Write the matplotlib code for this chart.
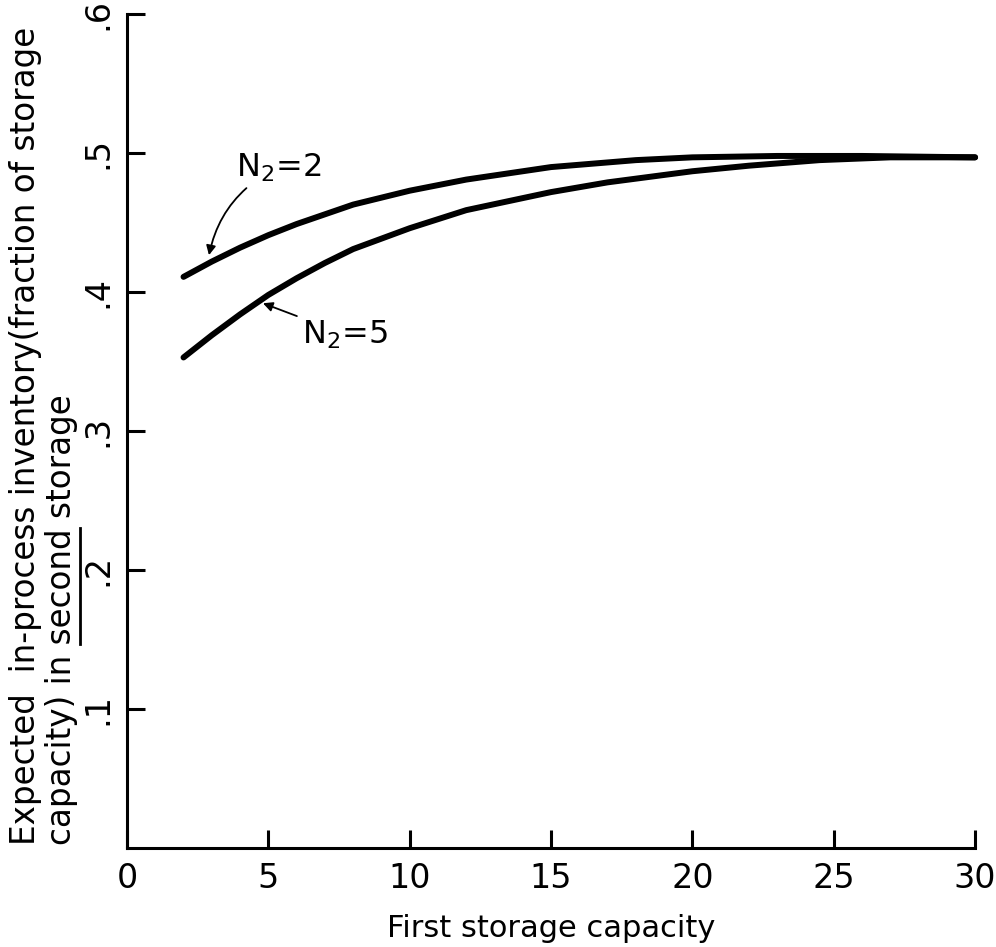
import matplotlib
matplotlib.use('Agg')
import matplotlib.pyplot as plt

# Valeurs (capacité du premier stockage -> stock moyen dans le second)
capacity_n2_2 = [2, 3, 4, 5, 6, 7, 8, 9, 10, 12, 15, 18, 20, 23, 26, 30]
inventory_n2_2 = [.411, .422, .432, .441, .449, .456, .463, .468, .473, .481, .490, .495, .497, .498, .498, .497]
capacity_n2_5 = [2, 3, 4, 5, 6, 7, 8, 10, 12, 15, 17, 20, 22, 24.5, 27, 30]
inventory_n2_5 = [.353, .369, .384, .398, .410, .421, .431, .446, .459, .472, .479, .487, .491, .495, .497, .497]

x_ticks = [0, 5, 10, 15, 20, 25, 30]
x_tick_labels = ['0', '5', '10', '15', '20', '25', '30']
y_ticks = [.1, .2, .3, .4, .5, .6]
y_tick_labels = ['.1', '.2', '.3', '.4', '.5', '.6']

plt.rcParams['font.family'] = ['DejaVu Sans']
FS_TICK = 24
FS_LABEL = 23.5

fig = plt.figure(figsize=(9.96, 9.47), dpi=100)
ax = fig.add_axes([0.1275, 0.1045, 0.8515, 0.8805])

for xs, ys in [(capacity_n2_2, inventory_n2_2), (capacity_n2_5, inventory_n2_5)]:
    ax.plot(xs, ys, color='black', lw=4.3, solid_capstyle='round',
            solid_joinstyle='round', clip_on=False)

ax.set_xlim(0, 30)
ax.set_ylim(0, 0.6)
for side in ['top', 'right']:
    ax.spines[side].set_visible(False)
for side in ['left', 'bottom']:
    ax.spines[side].set_linewidth(2.2)

ax.set_xticks(x_ticks)
ax.set_xticklabels(x_tick_labels)
ax.set_yticks(y_ticks)
ax.set_yticklabels(y_tick_labels, rotation=90, va='center')
ax.tick_params(axis='both', direction='in', length=13, width=2.2, labelsize=FS_TICK)
ax.tick_params(axis='x', pad=10)
ax.tick_params(axis='y', pad=9)

ax.set_xlabel('First storage capacity', fontsize=22, labelpad=14)

# annotations des courbes
ax.annotate('N$_2$=2', xy=(2.9, .4266), xytext=(3.85, .4835), fontsize=23,
            ha='left', va='baseline',
            arrowprops=dict(arrowstyle='-|>', color='black', lw=1.3,
                            shrinkA=2, shrinkB=0, mutation_scale=14,
                            connectionstyle='arc3,rad=0.25'))
ax.annotate('N$_2$=5', xy=(4.81, .392), xytext=(6.2, .3633), fontsize=23,
            ha='left', va='baseline',
            arrowprops=dict(arrowstyle='-|>', color='black', lw=1.3,
                            shrinkA=2, shrinkB=0, mutation_scale=14))

# label Y sur deux lignes, "second" souligné
y0 = 1 - 845 / 947
line1 = 'Expected  in-process inventory(fraction of storage'
line2 = 'capacity) in second storage'
fig.text(26 / 996, y0, line1, rotation=90, ha='center', va='bottom', fontsize=FS_LABEL)
fig.text(61 / 996, y0, line2, rotation=90, ha='center', va='bottom', fontsize=FS_LABEL)

renderer = fig.canvas.get_renderer()
def text_width(s):
    t = fig.text(0, 0, s, fontsize=FS_LABEL)
    w = t.get_window_extent(renderer).width
    t.remove()
    return w

end = text_width('capacity) in second')
start = end - text_width('second')
fig.add_artist(plt.Line2D([80 / 996, 80 / 996],
                          [y0 + start / 947, y0 + end / 947],
                          color='black', lw=2, transform=fig.transFigure))

fig.savefig('out.png', dpi=100)
